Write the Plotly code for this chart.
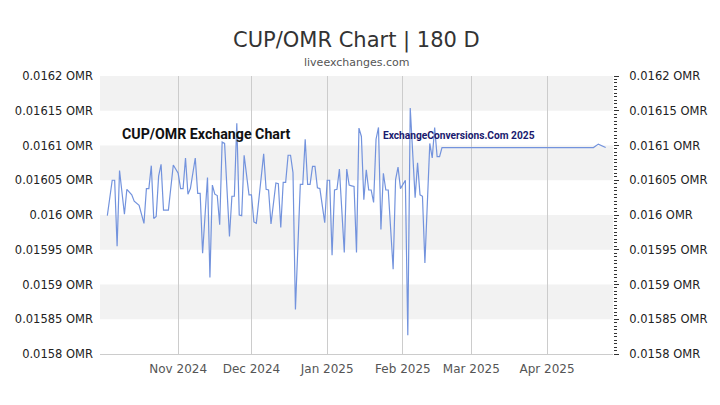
import plotly.graph_objects as go

dates = [
    "2024-10-03", "2024-10-05", "2024-10-06", "2024-10-07", "2024-10-08", "2024-10-10", "2024-10-11",
    "2024-10-13", "2024-10-14", "2024-10-16", "2024-10-18", "2024-10-19", "2024-10-20", "2024-10-21",
    "2024-10-22", "2024-10-23", "2024-10-24", "2024-10-25", "2024-10-26", "2024-10-28", "2024-10-30",
    "2024-11-01", "2024-11-02", "2024-11-03", "2024-11-04", "2024-11-05", "2024-11-06", "2024-11-08",
    "2024-11-09", "2024-11-10", "2024-11-11", "2024-11-13", "2024-11-14", "2024-11-15", "2024-11-16",
    "2024-11-17", "2024-11-18", "2024-11-19", "2024-11-20", "2024-11-22", "2024-11-23", "2024-11-24",
    "2024-11-25", "2024-11-26", "2024-11-27", "2024-11-28", "2024-11-30", "2024-12-01", "2024-12-02",
    "2024-12-03", "2024-12-06", "2024-12-07", "2024-12-08", "2024-12-09", "2024-12-11", "2024-12-12",
    "2024-12-13", "2024-12-14", "2024-12-15", "2024-12-16", "2024-12-17", "2024-12-18", "2024-12-19",
    "2024-12-21", "2024-12-22", "2024-12-23", "2024-12-24", "2024-12-25", "2024-12-26", "2024-12-27",
    "2024-12-28", "2024-12-29", "2024-12-31", "2025-01-01", "2025-01-02", "2025-01-03", "2025-01-04",
    "2025-01-05", "2025-01-06", "2025-01-08", "2025-01-09", "2025-01-10", "2025-01-11", "2025-01-12",
    "2025-01-13", "2025-01-14", "2025-01-15", "2025-01-16", "2025-01-17", "2025-01-18", "2025-01-19",
    "2025-01-20", "2025-01-21", "2025-01-22", "2025-01-23", "2025-01-24", "2025-01-25", "2025-01-26",
    "2025-01-28", "2025-01-29", "2025-01-30", "2025-01-31", "2025-02-02", "2025-02-03", "2025-02-04",
    "2025-02-06", "2025-02-07", "2025-02-08", "2025-02-09", "2025-02-10", "2025-02-12", "2025-02-13",
    "2025-02-14", "2025-02-15", "2025-02-16", "2025-02-17", "2025-04-20", "2025-04-22", "2025-04-25",
]

rates = [
    0.015999, 0.016050, 0.016050, 0.015955, 0.016064, 0.016001, 0.016037,
    0.016029, 0.016020, 0.016014, 0.015988, 0.016038, 0.016038, 0.016071,
    0.015995, 0.015998, 0.016056, 0.016073, 0.016007, 0.016007, 0.016072,
    0.016060, 0.016038, 0.016038, 0.016082, 0.016030, 0.016038, 0.016082,
    0.016031, 0.016031, 0.015945, 0.016054, 0.015910, 0.016043, 0.016030,
    0.016028, 0.015986, 0.016105, 0.016103, 0.015969, 0.016027, 0.016027,
    0.016132, 0.016000, 0.015999, 0.016086, 0.016029, 0.016029, 0.015990,
    0.015988, 0.016088, 0.016037, 0.016036, 0.015987, 0.016046, 0.016045,
    0.015982, 0.016047, 0.016047, 0.016086, 0.016086, 0.016061, 0.015864,
    0.016044, 0.016044, 0.016109, 0.016044, 0.016044, 0.016070, 0.016070,
    0.016039, 0.016038, 0.015989, 0.016050, 0.016050, 0.015942, 0.016036,
    0.016037, 0.016066, 0.015946, 0.016066, 0.016043, 0.016042, 0.016041,
    0.015946, 0.016125, 0.016113, 0.016022, 0.016065, 0.016036, 0.016036,
    0.016018, 0.016109, 0.016126, 0.015979, 0.016060, 0.016036, 0.016036,
    0.015922, 0.016051, 0.016069, 0.016038, 0.016050, 0.015827, 0.016154,
    0.016025, 0.016075, 0.016029, 0.016027, 0.015931, 0.016103, 0.016082,
    0.016126, 0.016084, 0.016084, 0.016097, 0.016097, 0.016102, 0.016097,
]

y_ticks = [0.0158, 0.01585, 0.0159, 0.01595, 0.016, 0.01605, 0.0161, 0.01615, 0.0162]
y_tick_text = ["0.0158 OMR", "0.01585 OMR", "0.0159 OMR", "0.01595 OMR", "0.016 OMR",
               "0.01605 OMR", "0.0161 OMR", "0.01615 OMR", "0.0162 OMR"]
x_ticks = ["2024-11-01", "2024-12-01", "2025-01-01", "2025-02-01", "2025-03-01", "2025-04-01"]
x_tick_text = ["Nov 2024", "Dec 2024", "Jan 2025", "Feb 2025", "Mar 2025", "Apr 2025"]
x_range = ["2024-09-30", "2025-04-28"]

LINE = "#7393dd"
FONT = "DejaVu Sans"
WM_FONT = "Roboto"

fig = go.Figure()
fig.add_trace(go.Scatter(x=dates, y=rates, mode="lines", line=dict(color=LINE, width=1.2),
                         hoverinfo="x+y", showlegend=False))
fig.add_trace(go.Scatter(x=dates, y=rates, mode="lines", line=dict(color=LINE, width=0),
                         opacity=0, yaxis="y2", hoverinfo="skip", showlegend=False))

shapes = []
for i in range(len(y_ticks) - 1):
    if i % 2 == 1:
        shapes.append(dict(type="rect", xref="paper", yref="y", x0=0, x1=1,
                           y0=y_ticks[i], y1=y_ticks[i + 1], fillcolor="#f2f2f2",
                           line=dict(width=0), layer="below"))

fig.update_layout(
    width=720, height=405,
    margin=dict(l=92, r=115, t=68, b=59),
    paper_bgcolor="white", plot_bgcolor="white",
    font=dict(family=FONT, color="#333333", size=12),
    shapes=shapes,
    xaxis=dict(type="date", range=x_range, tickvals=x_ticks, ticktext=x_tick_text,
               showgrid=True, gridcolor="#cccccc", gridwidth=1, automargin=False,
               showline=True, linecolor="#cccccc", linewidth=1, ticklabelstandoff=4,
               ticks="", tickfont=dict(size=12, color="#555555"), zeroline=False),
    yaxis=dict(range=[y_ticks[0], y_ticks[-1]], tickvals=y_ticks, ticktext=y_tick_text,
               showgrid=False, zeroline=False, ticks="", ticklabelstandoff=6, automargin=False,
               tickfont=dict(size=11.5, color="#222222")),
    yaxis2=dict(range=[y_ticks[0], y_ticks[-1]], overlaying="y", side="right",
                tickvals=y_ticks, ticktext=y_tick_text, showgrid=False, zeroline=False,
                ticks="outside", ticklen=5, tickcolor="#333333", ticklabelstandoff=8,
                automargin=False,
                minor=dict(ticks="outside", dtick=0.000005, ticklen=3, tickcolor="#333333"),
                tickfont=dict(size=11.5, color="#222222")),
    annotations=[
        dict(text="CUP/OMR Chart | 180 D", xref="paper", yref="paper", x=0.5, y=1.129,
             showarrow=False, font=dict(size=21, color="#333333", family=FONT),
             xanchor="center", yanchor="middle"),
        dict(text="liveexchanges.com", xref="paper", yref="paper", x=0.5, y=1.047,
             showarrow=False, font=dict(size=11, color="#555555", family=FONT),
             xanchor="center", yanchor="middle"),
        dict(text="<b>CUP/OMR Exchange Chart</b>", xref="paper", yref="paper", x=0.039, y=0.791,
             showarrow=False, font=dict(size=14.2, color="#111111", family=WM_FONT),
             xanchor="left", yanchor="middle"),
        dict(text="<b>ExchangeConversions.Com 2025</b>", xref="paper", yref="paper", x=0.548, y=0.786,
             showarrow=False, font=dict(size=10.2, color="#1a1a6e", family=WM_FONT),
             xanchor="left", yanchor="middle"),
    ],
)

fig.write_html("out.html")
